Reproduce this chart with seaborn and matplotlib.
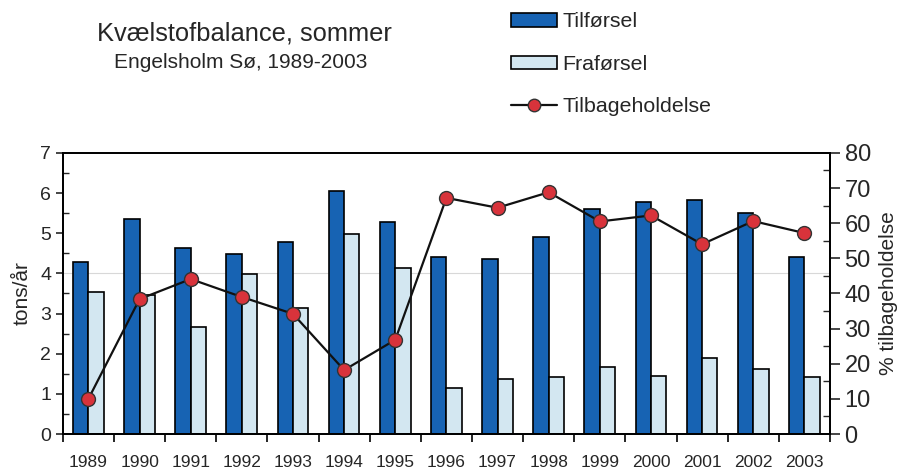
import matplotlib
matplotlib.use("Agg")
import matplotlib.pyplot as plt
import matplotlib.ticker as mticker
from matplotlib.patches import Patch
from matplotlib.lines import Line2D
import numpy as np
import pandas as pd
import seaborn as sns

years = [str(y) for y in range(1989, 2004)]
tilforsel = [4.28, 5.35, 4.63, 4.48, 4.78, 6.04, 5.29, 4.41, 4.36, 4.90, 5.60, 5.78, 5.84, 5.50, 4.40]
fraforsel = [3.53, 3.45, 2.67, 3.98, 3.15, 4.97, 4.14, 1.15, 1.38, 1.43, 1.67, 1.45, 1.90, 1.61, 1.41]
tilbage = [10.0, 38.4, 44.1, 39.0, 34.2, 18.2, 26.8, 67.2, 64.4, 68.8, 60.5, 62.2, 54.0, 60.6, 57.2]

DARK = '#1763b3'
LIGHT = '#d3e7f1'
RED = '#d8333b'

df = pd.DataFrame({
    'year': years * 2,
    'value': tilforsel + fraforsel,
    'serie': ['Tilførsel'] * len(years) + ['Fraførsel'] * len(years),
})

sns.set_theme(style='white')
plt.rcParams['font.family'] = ['Liberation Sans', 'DejaVu Sans']

fig = plt.figure(figsize=(9.11, 4.72), dpi=100)
ax = fig.add_axes([0.069, 0.0805, 0.842, 0.5955])

sns.barplot(data=df, x='year', y='value', hue='serie', order=years,
            palette=[DARK, LIGHT], width=0.6, edgecolor='black', linewidth=1.2,
            saturation=1, legend=False, ax=ax)
ax.axhline(4, color='#d8d8d8', lw=0.8, zorder=0)

ax.set_xlim(-0.5, len(years) - 0.5)
ax.set_ylim(0, 7)
ax.set_xlabel('')
ax.set_ylabel('tons/år', fontsize=15, labelpad=6)
ax.yaxis.set_major_locator(mticker.MultipleLocator(1))
ax.yaxis.set_minor_locator(mticker.MultipleLocator(0.5))
ax.xaxis.set_minor_locator(mticker.FixedLocator(np.arange(-0.5, len(years), 1)))
ax.tick_params(axis='x', which='major', length=0, labelsize=12.5, pad=15)
ax.tick_params(axis='x', which='minor', length=6, width=1.2, direction='out', color='black', bottom=True)
ax.tick_params(axis='y', which='major', length=5, width=1.2, direction='out', labelsize=14, left=True)
ax.tick_params(axis='y', which='minor', length=4, width=1, direction='in', left=True)
for s in ax.spines.values():
    s.set_color('black')
    s.set_linewidth(1.3)

ax2 = ax.twinx()
sns.lineplot(x=np.arange(len(years)), y=tilbage, ax=ax2, color='#111111', lw=1.6,
             marker='o', markersize=10, markerfacecolor=RED, markeredgecolor='#333333',
             markeredgewidth=1.0)
ax2.set_ylim(0, 80)
ax2.set_ylabel('% tilbageholdelse', fontsize=15, labelpad=6)
ax2.yaxis.set_major_locator(mticker.MultipleLocator(10))
ax2.yaxis.set_minor_locator(mticker.MultipleLocator(5))
ax2.tick_params(axis='y', which='major', length=7, width=1.2, direction='out', labelsize=17, right=True)
ax2.tick_params(axis='y', which='minor', length=5, width=1, direction='in', right=True)
for s in ax2.spines.values():
    s.set_color('black')
    s.set_linewidth(1.3)

fig.text(0.268, 0.928, 'Kvælstofbalance, sommer', ha='center', va='center', fontsize=18.4)
fig.text(0.264, 0.868, 'Engelsholm Sø, 1989-2003', ha='center', va='center', fontsize=15)

handles = [
    Patch(facecolor=DARK, edgecolor='black', lw=1.2),
    Patch(facecolor=LIGHT, edgecolor='black', lw=1.2),
    Line2D([], [], color='#111111', lw=1.6, marker='o', markersize=9,
           markerfacecolor=RED, markeredgecolor='#333333'),
]
fig.legend(handles, ['Tilførsel', 'Fraførsel', 'Tilbageholdelse'],
           loc='upper left', bbox_to_anchor=(0.551, 0.992), frameon=False, fontsize=15.4,
           labelspacing=1.1, handlelength=2.15, handleheight=0.6, handletextpad=0.28,
           borderaxespad=0.0)

fig.savefig('out.png', dpi=100)
